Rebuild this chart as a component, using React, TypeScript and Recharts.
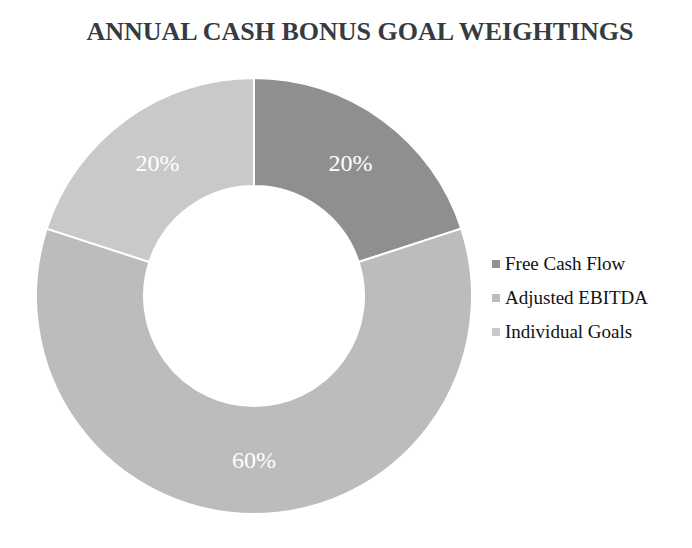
import React from 'react';
import { PieChart, Pie, Cell } from 'recharts';

const categories = ['Free Cash Flow', 'Adjusted EBITDA', 'Individual Goals'];
const weights = [20, 60, 20];
const COLORS = ['#8f8f8f', '#bcbcbc', '#c9c9c9'];

const chartData = categories.map((name, i) => ({ name, value: weights[i] }));

const RADIAN = Math.PI / 180;
const SERIF = "'Liberation Serif', 'Times New Roman', serif";

function renderLabel({ cx, cy, midAngle, innerRadius, outerRadius, percent }: any) {
  const r = (innerRadius + outerRadius) / 2;
  const x = cx + r * Math.cos(-midAngle * RADIAN);
  const y = cy + r * Math.sin(-midAngle * RADIAN);
  return (
    <text
      x={x}
      y={y + 8}
      fill="#ffffff"
      textAnchor="middle"
      style={{ fontFamily: SERIF, fontSize: 24 }}
    >
      {`${Math.round(percent * 100)}%`}
    </text>
  );
}

export default function App() {
  return (
    <div style={{ position: 'absolute', left: 0, top: 0, width: 692, height: 548, background: '#fff' }}>
      <div
        style={{
          position: 'absolute',
          left: 0,
          top: 17,
          width: 720,
          textAlign: 'center',
          fontFamily: SERIF,
          fontWeight: 'bold',
          fontSize: 26,
          lineHeight: '30px',
          color: '#353b41',
        }}
      >
        ANNUAL CASH BONUS GOAL WEIGHTINGS
      </div>

      <PieChart
        width={692}
        height={548}
        margin={{ top: 0, right: 0, bottom: 0, left: 0 }}
        style={{ position: 'absolute', left: 0, top: 0 }}
      >
        <Pie
          data={chartData}
          dataKey="value"
          nameKey="name"
          cx={254}
          cy={296}
          innerRadius={110}
          outerRadius={218}
          startAngle={90}
          endAngle={-270}
          stroke="#ffffff"
          strokeWidth={2}
          labelLine={false}
          label={renderLabel}
          isAnimationActive={false}
        >
          {chartData.map((entry, index) => (
            <Cell key={`cell-${index}`} fill={COLORS[index]} />
          ))}
        </Pie>
      </PieChart>

      {/* Legend */}
      <div style={{ position: 'absolute', left: 492, top: 247 }}>
        {categories.map((name, i) => (
          <div key={name} style={{ display: 'flex', alignItems: 'center', height: 34 }}>
            <div style={{ width: 8, height: 8, background: COLORS[i], marginRight: 5 }} />
            <span style={{ fontFamily: SERIF, fontSize: 19, color: '#111' }}>{name}</span>
          </div>
        ))}
      </div>
    </div>
  );
}
